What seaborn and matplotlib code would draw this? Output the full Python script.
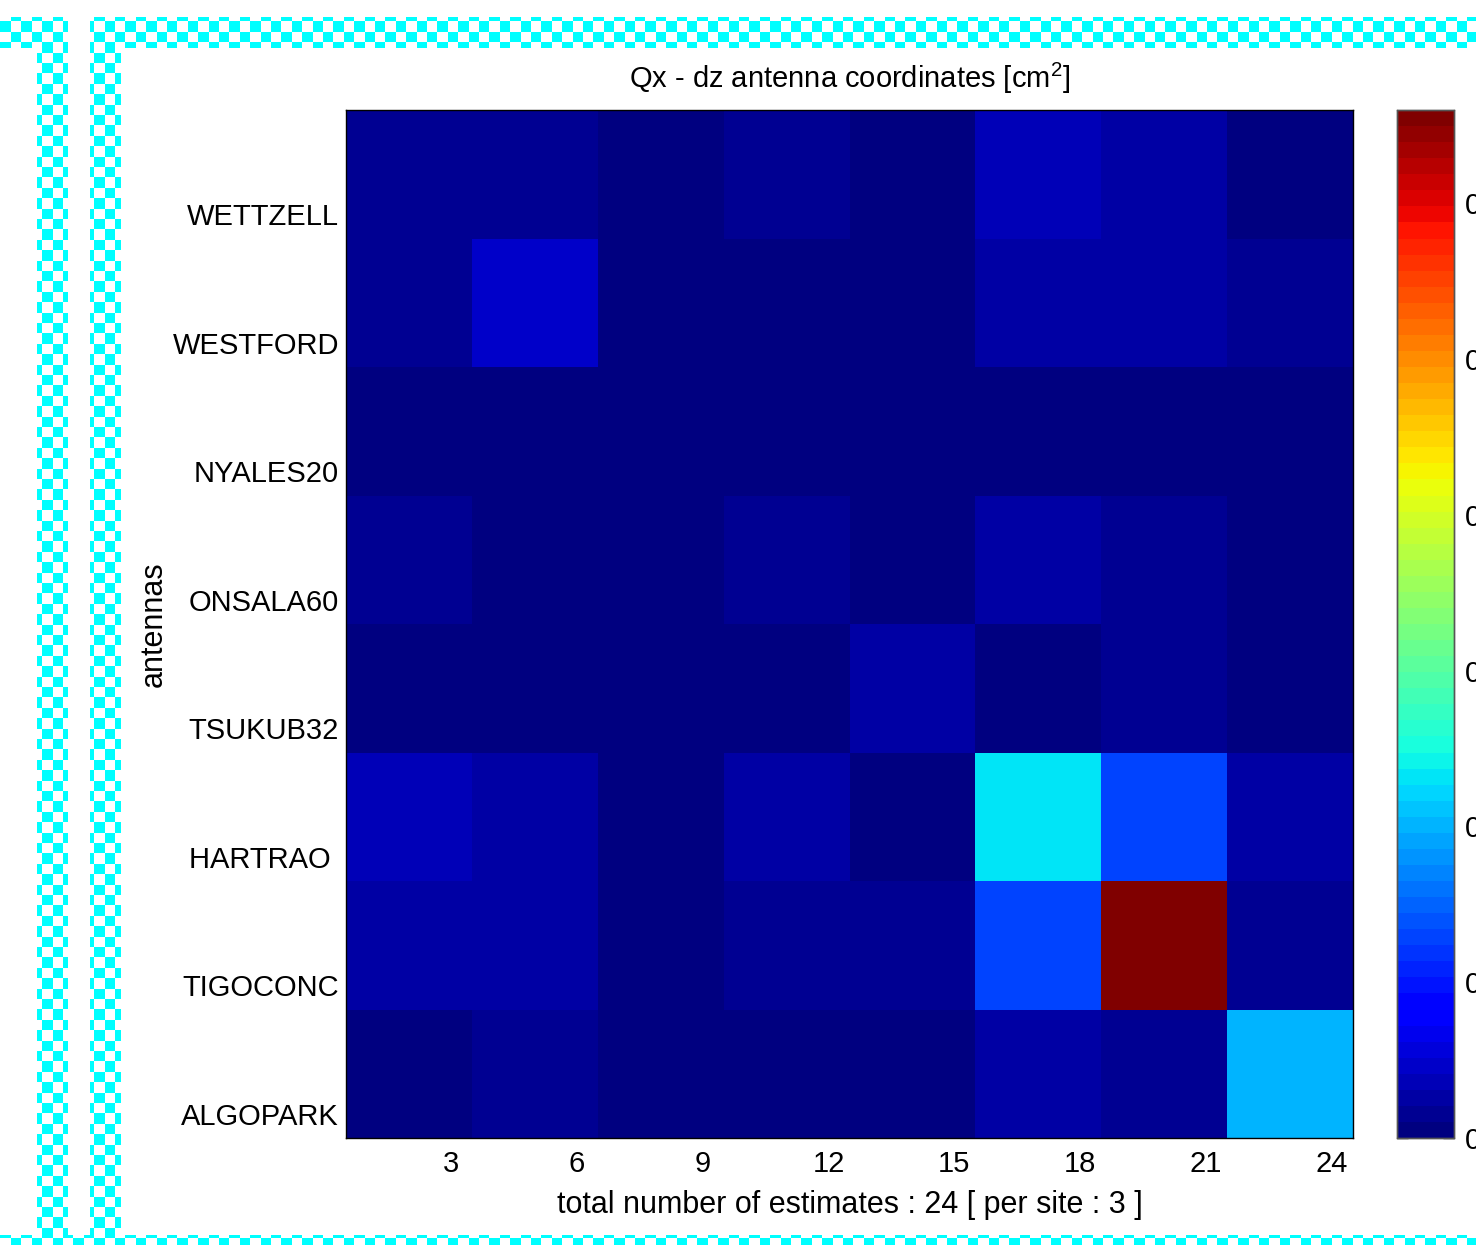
import numpy as np
import pandas as pd
import seaborn as sns
import matplotlib.pyplot as plt

antennas = ["WETTZELL", "WESTFORD", "NYALES20", "ONSALA60",
            "TSUKUB32", "HARTRAO ", "TIGOCONC", "ALGOPARK"]
estimates = [3, 6, 9, 12, 15, 18, 21, 24]

# one row per antenna, one column per 3 estimates
wettzell = [0.014, 0.014, 0.004, 0.018, 0.004, 0.041, 0.024, 0.004]
westford = [0.014, 0.044, 0.004, 0.004, 0.004, 0.024, 0.024, 0.016]
nyales20 = [0.004, 0.004, 0.004, 0.004, 0.004, 0.004, 0.004, 0.004]
onsala60 = [0.016, 0.004, 0.004, 0.018, 0.004, 0.028, 0.016, 0.004]
tsukub32 = [0.004, 0.004, 0.004, 0.004, 0.024, 0.001, 0.016, 0.004]
hartrao = [0.034, 0.024, 0.004, 0.028, 0.004, 0.231, 0.134, 0.024]
tigoconc = [0.024, 0.024, 0.004, 0.016, 0.016, 0.134, 0.660, 0.014]
algopark = [0.001, 0.016, 0.008, 0.004, 0.004, 0.028, 0.016, 0.196]
cbar_ticks = [0, 0.1, 0.2, 0.3, 0.4, 0.5, 0.6]

df = pd.DataFrame([wettzell, westford, nyales20, onsala60,
                   tsukub32, hartrao, tigoconc, algopark],
                  index=antennas, columns=estimates)

sns.set_style("white")
plt.rcParams["font.family"] = ["Liberation Sans", "DejaVu Sans"]
plt.rcParams["mathtext.fontset"] = "custom"
plt.rcParams["mathtext.rm"] = "Liberation Sans"
plt.rcParams["text.color"] = "black"
plt.rcParams["axes.labelcolor"] = "black"
plt.rcParams["xtick.color"] = "black"
plt.rcParams["ytick.color"] = "black"

W, H = 1476, 1245
fs = 21
fig = plt.figure(figsize=(W / 100, H / 100), dpi=100)

# cyan checkered borders of the screenshot
bg = np.zeros((H, W, 4))
yy, xx = np.mgrid[0:H, 0:W]
chk = ((xx // 10.4).astype(int) + (yy // 10.4).astype(int)) % 2 == 0
band = np.zeros((H, W), bool)
band[17:48, 0:68] = True
band[17:48, 90:W] = True
band[17:H, 37:68] = True
band[17:H, 90:121] = True
band[1235:H, :] = True
bg[band] = [1, 1, 1, 1]
bg[band & chk] = [0, 1, 1, 1]
fig.figimage(bg, 0, 0, zorder=0)

ax = fig.add_axes([346 / W, 1 - 1138 / H, 1007 / W, 1028 / H])
cax = fig.add_axes([1397 / W, 1 - 1138 / H, 57 / W, 1028 / H])

sns.heatmap(df, ax=ax, cbar_ax=cax, cmap=plt.get_cmap("jet", 64),
            vmin=0, vmax=0.66)

pos = np.arange(8) + 5 / 6
ax.set_xticks(pos)
ax.set_xticklabels(estimates, rotation=0, fontsize=fs)
ax.set_yticks(pos)
ax.set_yticklabels(antennas, rotation=0, fontsize=fs)
ax.tick_params(direction="in", top=True, right=True, length=8,
               width=1, color="black", pad=9)
ax.tick_params(axis="y", pad=5)
for s in ax.spines.values():
    s.set_visible(True)
    s.set_color("black")
    s.set_linewidth(1)

ax.set_title("Qx - dz antenna coordinates [cm$^2$]", fontsize=fs, pad=16)
ax.set_xlabel("total number of estimates : 24 [ per site : 3 ]",
              fontsize=fs + 1, labelpad=8)
ax.set_ylabel("antennas", fontsize=fs + 1, labelpad=3)

cax.set_yticks(cbar_ticks)
cax.set_yticklabels([str(t) for t in cbar_ticks], fontsize=fs)
cax.tick_params(direction="in", left=True, right=True, length=8,
                width=1, color="black", pad=8)
for s in cax.spines.values():
    s.set_visible(True)
    s.set_color("#555555")
    s.set_linewidth(1)

fig.savefig("out.png", dpi=100)
